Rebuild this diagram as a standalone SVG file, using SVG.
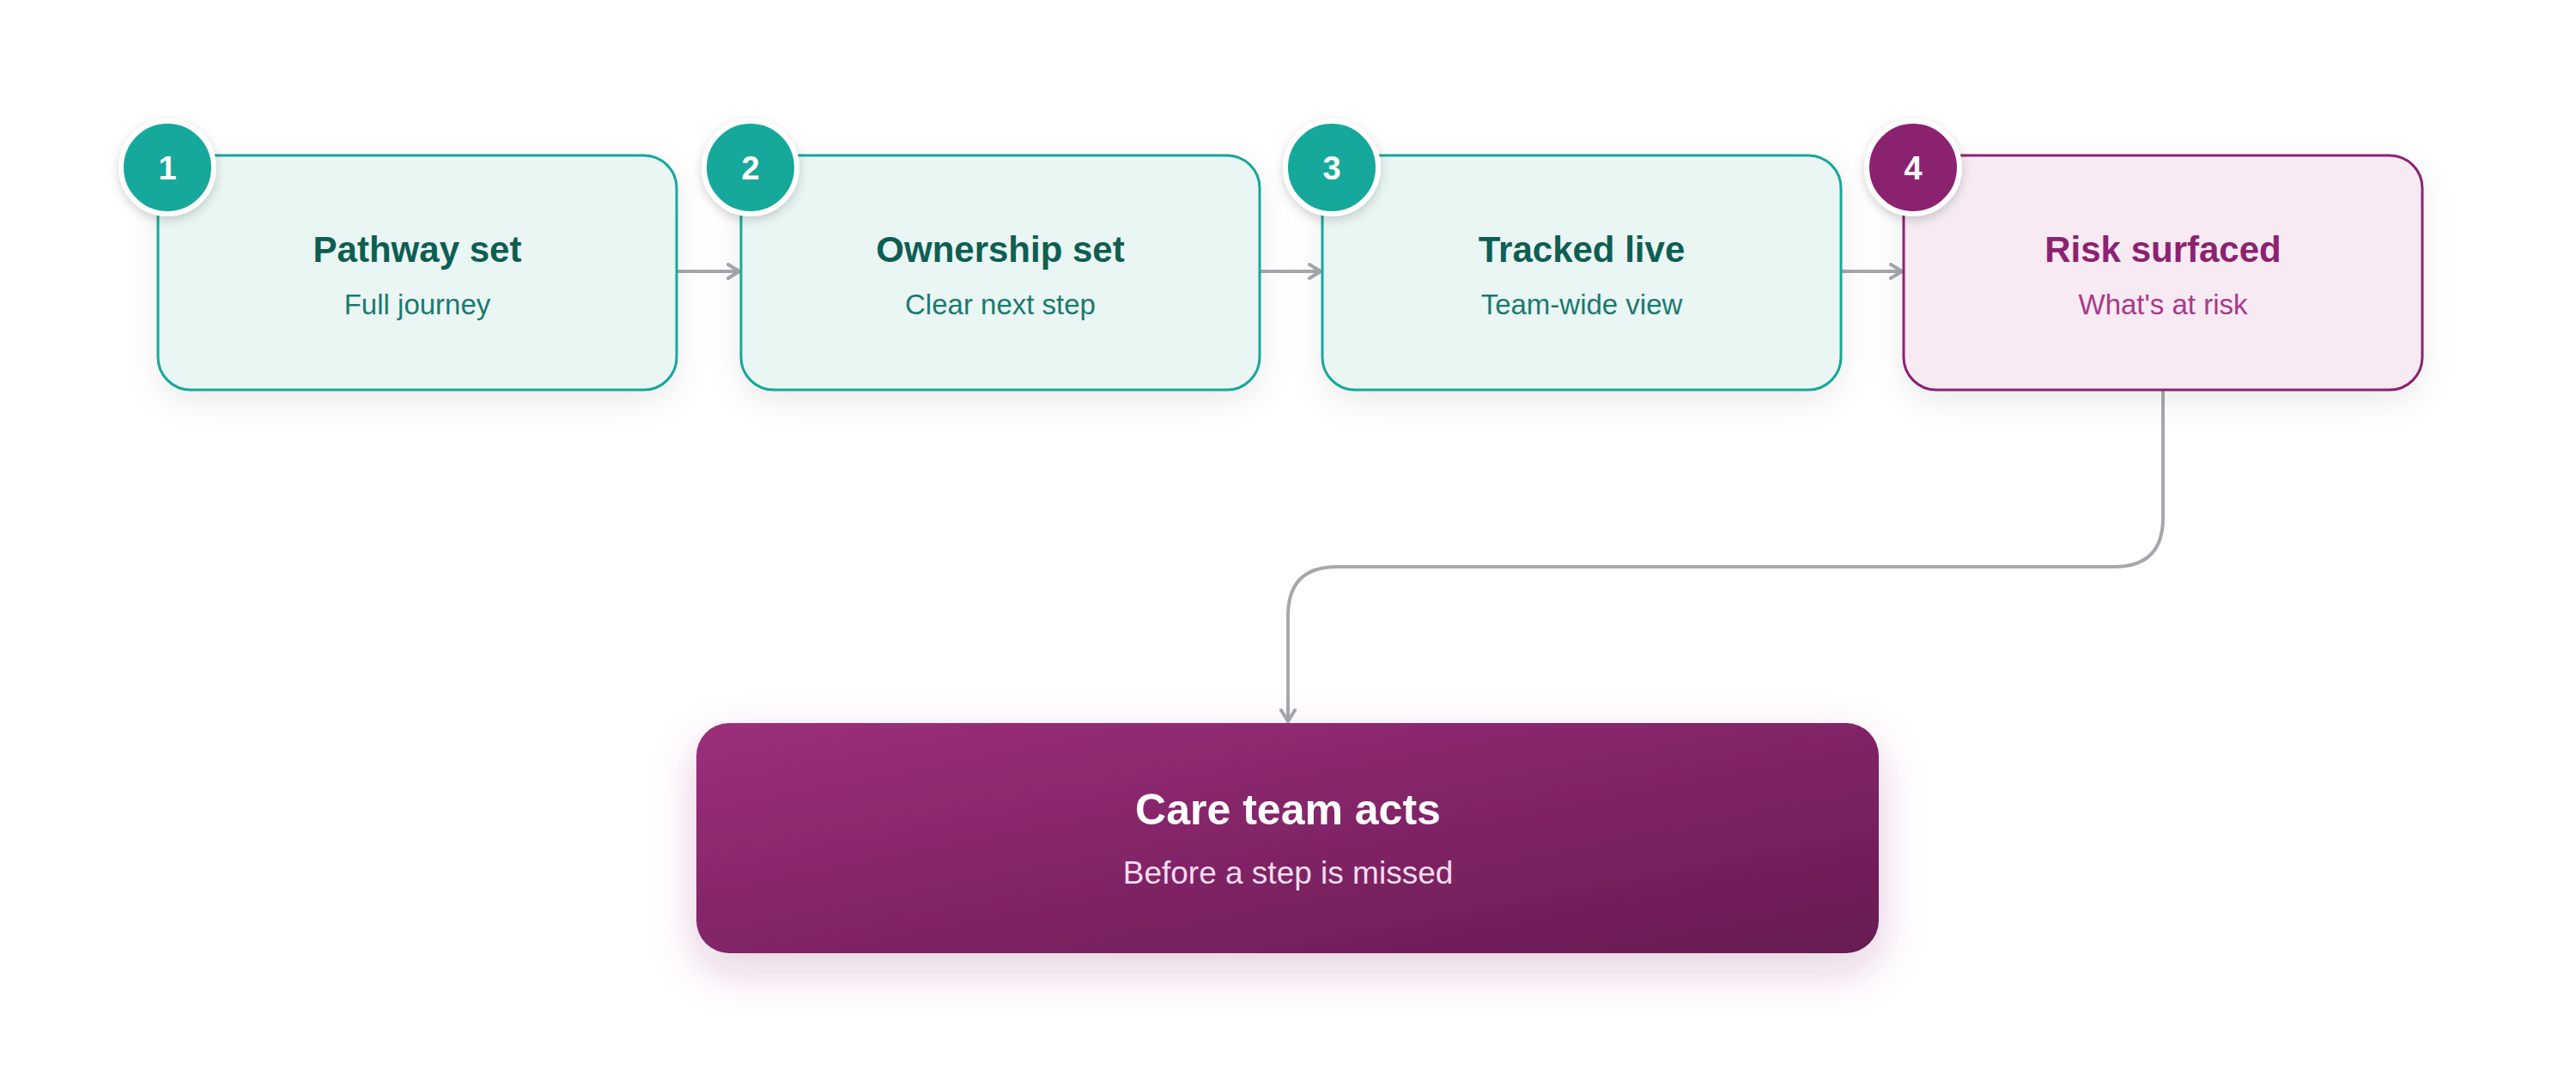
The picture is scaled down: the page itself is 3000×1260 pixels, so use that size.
<svg xmlns="http://www.w3.org/2000/svg" width="3000" height="1260" viewBox="0 0 3000 1260">
<defs>
<filter id="sh" x="-20%" y="-20%" width="140%" height="160%"><feDropShadow dx="0" dy="12" stdDeviation="18" flood-color="#000" flood-opacity="0.08"/></filter>
<filter id="shp" x="-20%" y="-30%" width="140%" height="180%"><feDropShadow dx="0" dy="20" stdDeviation="26" flood-color="#8b2270" flood-opacity="0.22"/></filter>
<filter id="shb" x="-50%" y="-50%" width="200%" height="200%"><feDropShadow dx="0" dy="4" stdDeviation="6" flood-color="#000" flood-opacity="0.18"/></filter>
<linearGradient id="g" x1="0" y1="0" x2="1" y2="1"><stop offset="0" stop-color="#9b2f7b"/><stop offset="1" stop-color="#681a52"/></linearGradient>
<marker id="ar" viewBox="0 0 20 20" refX="17" refY="10" markerWidth="20" markerHeight="20" markerUnits="userSpaceOnUse" orient="auto"><path d="M4,2 L17,10 L4,18" fill="none" stroke="#a6a8ad" stroke-width="4" stroke-linecap="round" stroke-linejoin="round"/></marker>
<style>
.t{font-family:"Liberation Sans",Arial,sans-serif;text-anchor:middle}
.ti{font-size:42px;font-weight:bold}
.su{font-size:33px}
.tb{fill:#eaf6f4;stroke:#14a89b;stroke-width:3}
.pb{fill:#f7eaf3;stroke:#8b2270;stroke-width:3}
.bn{font-family:"Liberation Sans",Arial,sans-serif;font-size:38px;font-weight:bold;fill:#fff;text-anchor:middle}
.c{fill:none;stroke:#a6a8ad;stroke-width:4}
</style>
</defs>
<rect width="3000" height="1260" fill="#fff"/>
<g id="connectors">
<path class="c" d="M788,316 H861" marker-end="url(#ar)"/>
<path class="c" d="M1467,316 H1538" marker-end="url(#ar)"/>
<path class="c" d="M2144,316 H2215" marker-end="url(#ar)"/>
<path class="c" d="M2519,454 V603 Q2519,660 2462,660 H1557 Q1500,660 1500,717 V840" marker-end="url(#ar)"/>
</g>
<g id="n1"><rect class="tb" x="184" y="181" width="604" height="273" rx="38" filter="url(#sh)"/>
<text class="t ti" x="486" y="305" fill="#0e5e52">Pathway set</text><text class="t su" x="486" y="366" fill="#1a7a6e">Full journey</text>
<circle cx="195" cy="195" r="54" fill="#14a89b" stroke="#fff" stroke-width="6" filter="url(#shb)"/><text class="bn" x="195" y="209">1</text></g>
<g id="n2"><rect class="tb" x="863" y="181" width="604" height="273" rx="38" filter="url(#sh)"/>
<text class="t ti" x="1165" y="305" fill="#0e5e52">Ownership set</text><text class="t su" x="1165" y="366" fill="#1a7a6e">Clear next step</text>
<circle cx="874" cy="195" r="54" fill="#14a89b" stroke="#fff" stroke-width="6" filter="url(#shb)"/><text class="bn" x="874" y="209">2</text></g>
<g id="n3"><rect class="tb" x="1540" y="181" width="604" height="273" rx="38" filter="url(#sh)"/>
<text class="t ti" x="1842" y="305" fill="#0e5e52">Tracked live</text><text class="t su" x="1842" y="366" fill="#1a7a6e">Team-wide view</text>
<circle cx="1551" cy="195" r="54" fill="#14a89b" stroke="#fff" stroke-width="6" filter="url(#shb)"/><text class="bn" x="1551" y="209">3</text></g>
<g id="n4"><rect class="pb" x="2217" y="181" width="604" height="273" rx="38" filter="url(#sh)"/>
<text class="t ti" x="2519" y="305" fill="#8b2270">Risk surfaced</text><text class="t su" x="2519" y="366" fill="#a83a88">What's at risk</text>
<circle cx="2228" cy="195" r="54" fill="#8b2270" stroke="#fff" stroke-width="6" filter="url(#shb)"/><text class="bn" x="2228" y="209">4</text></g>
<g id="n5"><rect x="811" y="842" width="1377" height="268" rx="38" fill="url(#g)" filter="url(#shp)"/>
<text class="t" x="1500" y="960" font-size="50" font-weight="bold" fill="#fff">Care team acts</text>
<text class="t" x="1500" y="1029" font-size="37" fill="#f6dcef">Before a step is missed</text></g>
</svg>
